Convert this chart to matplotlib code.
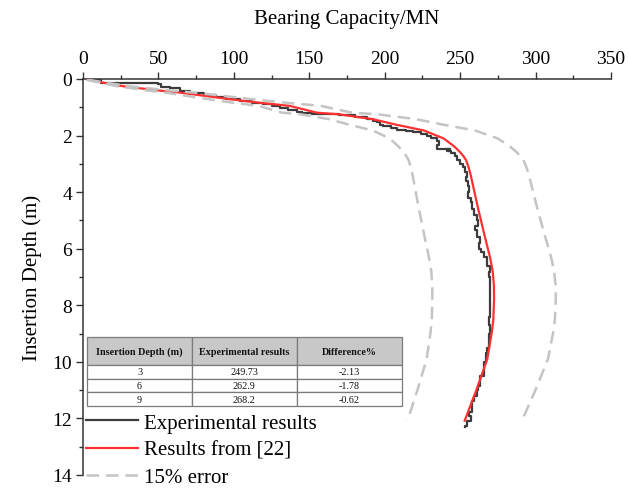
import matplotlib
matplotlib.use("Agg")
import matplotlib.pyplot as plt
from matplotlib.patches import Rectangle
from matplotlib.ticker import MultipleLocator

plt.rcParams['font.family'] = ['Liberation Serif', 'DejaVu Serif']
plt.rcParams['mathtext.fontset'] = 'stix'

# ---------------- data ----------------
exp_x = [5, 12, 50, 52, 58, 64, 71, 80, 88, 95, 104, 112, 119.6, 125, 130.6, 136, 141.7,
         145, 152, 163.8, 170, 180, 188, 192.5, 195, 197, 199, 204, 208, 214, 219, 224, 228,
         231, 234.5, 236, 234.5, 243.4, 241, 244, 246.7, 248, 250, 252, 253, 254.5, 254, 255,
         256, 255.5, 257, 258, 259, 261, 262, 260, 261, 263, 262.5, 264, 266, 267.7, 268, 270,
         269, 270, 269.5, 270, 269.5, 270, 269, 269.5, 268.8, 267.5, 267, 266, 265.5, 263.3,
         262, 261, 259, 258, 257.7, 256, 257, 254.5, 253]
exp_y = [0.05, 0.14, 0.16, 0.27, 0.33, 0.42, 0.48, 0.55, 0.62, 0.70, 0.79, 0.84, 0.90, 0.95, 1.01,
         1.08, 1.18, 1.20, 1.22, 1.24, 1.28, 1.35, 1.42, 1.50, 1.53, 1.62, 1.67, 1.72, 1.79, 1.84,
         1.88, 1.95, 2.03, 2.10, 2.18, 2.35, 2.47, 2.47, 2.55, 2.62, 2.71, 2.85, 3.00, 3.12, 3.30,
         3.47, 3.62, 3.80, 4.00, 4.20, 4.36, 4.60, 4.80, 5.00, 5.19, 5.35, 5.60, 5.80, 6.00, 6.10,
         6.30, 6.40, 6.60, 6.83, 7.00, 7.30, 7.60, 7.90, 8.20, 8.40, 8.70, 9.00, 9.50, 9.70, 10.00,
         10.20, 10.50, 10.84, 11.00, 11.20, 11.40, 11.60, 11.78, 11.90, 12.10, 12.25, 12.30]

ref_x = [3, 5, 27, 51, 64, 97, 117, 137, 155, 170, 192, 208, 226, 239, 246, 250, 252.5, 254,
         255.5, 257, 259.5, 262, 266.5, 269.8, 271.6, 272.4, 272.5, 272, 271, 268, 261, 253]
ref_y = [0.02, 0.05, 0.26, 0.41, 0.48, 0.71, 0.84, 0.95, 1.19, 1.25, 1.42, 1.62, 1.82, 2.10, 2.38,
         2.59, 2.75, 2.88, 3.10, 3.40, 4.00, 4.60, 5.60, 6.30, 6.80, 7.30, 7.80, 8.50, 8.95, 9.90,
         10.96, 12.08]

low_x = [2.6, 4.3, 23.0, 43.4, 54.4, 82.5, 99.5, 116.5, 131.8, 144.5, 163.2, 176.8, 192.1, 203.2,
         209.1, 212.5, 214.6, 215.9, 217.2, 218.5, 220.6, 222.7, 226.5, 229.3, 230.9, 231.5, 231.6,
         231.2, 230.4, 227.8, 221.9, 215.1]
up_x = [3.5, 5.8, 31.1, 58.7, 73.6, 111.6, 134.6, 157.6, 178.3, 195.5, 220.8, 239.2, 259.9, 274.9,
        282.9, 287.5, 290.4, 292.1, 293.8, 295.6, 298.4, 301.3, 306.5, 310.3, 312.3, 313.3, 313.4,
        312.8, 311.7, 308.2, 300.2, 291.0]
err_y = ref_y

table_cols = ["Insertion Depth (m)", "Experimental results", "Difference%"]
table_depth = ["3", "6", "9"]
table_exp = ["249.73", "262.9", "268.2"]
table_diff = ["-2.13", "-1.78", "-0.62"]

# ---------------- figure ----------------
fig = plt.figure(figsize=(6.28, 4.89), dpi=100)
ax = fig.add_axes([83 / 628, 13 / 489, 528 / 628, 396 / 489])

l1, = ax.plot(exp_x, exp_y, color='#3c3c3c', lw=1.6, drawstyle='steps-post',
              label='Experimental results', zorder=3)
l2, = ax.plot(ref_x, ref_y, color='#ff3030', lw=1.6, label='Results from [22]', zorder=4)
l3, = ax.plot(low_x, err_y, color='#c4c4c4', lw=1.8, ls=(0, (5, 2.8)), label='15% error', zorder=5)
ax.plot(up_x, err_y, color='#c4c4c4', lw=1.8, ls=(0, (5, 2.8)), zorder=5)

ax.set_xlim(0, 350)
ax.set_ylim(14, 0)
ax.xaxis.tick_top()
ax.xaxis.set_label_position('top')
ax.xaxis.set_major_locator(MultipleLocator(50))
ax.xaxis.set_minor_locator(MultipleLocator(25))
ax.yaxis.set_major_locator(MultipleLocator(2))
ax.yaxis.set_minor_locator(MultipleLocator(1))
for s in ['right', 'bottom']:
    ax.spines[s].set_visible(False)
for s in ['left', 'top']:
    ax.spines[s].set_linewidth(1.1)
    ax.spines[s].set_color('#333333')
ax.tick_params(axis='both', which='major', direction='out', length=5, width=1.0,
               color='#333333', labelsize=14)
ax.tick_params(axis='both', which='minor', direction='out', length=3, width=1.0, color='#333333')
ax.tick_params(axis='x', which='major', pad=4)
ax.tick_params(axis='y', which='major', pad=3)
ax.set_xlabel('Bearing Capacity/MN', fontsize=15, labelpad=19)
ax.set_ylabel('Insertion Depth (m)', fontsize=15, labelpad=7)

# ---------------- table ----------------
tx0 = (87.3 - 83) / 528
tx_edges = [tx0, (191.7 - 83) / 528, (296.7 - 83) / 528, (401.7 - 83) / 528]
def ay(py):
    return 1 - (py - 80) / 396
ty_edges = [ay(338.3), ay(366), ay(379.5), ay(393.4), ay(407.3)]
rows = [table_cols] + [list(r) for r in zip(table_depth, table_exp, table_diff)]
for i, row in enumerate(rows):
    for j, txt in enumerate(row):
        x0, x1 = tx_edges[j], tx_edges[j + 1]
        y0, y1 = ty_edges[i + 1], ty_edges[i]
        ax.add_patch(Rectangle((x0, y0), x1 - x0, y1 - y0, transform=ax.transAxes,
                               facecolor='#c8c8c8' if i == 0 else 'white',
                               edgecolor='#7a7a7a', lw=0.9, zorder=6, clip_on=False))
        ax.text((x0 + x1) / 2, (y0 + y1) / 2, txt, transform=ax.transAxes, ha='center',
                va='center', fontsize=7.3, fontweight='bold' if i == 0 else 'normal',
                zorder=7, color='#111111')

# ---------------- legend ----------------
leg = fig.legend(handles=[l1, l2, l3], loc='upper left', bbox_to_anchor=(86 / 628, 1 - 414 / 489),
                 frameon=False, fontsize=15, handlelength=2.5, handletextpad=0.3,
                 labelspacing=0.37, borderpad=0, borderaxespad=0)

fig.savefig('out.png', dpi=100)
